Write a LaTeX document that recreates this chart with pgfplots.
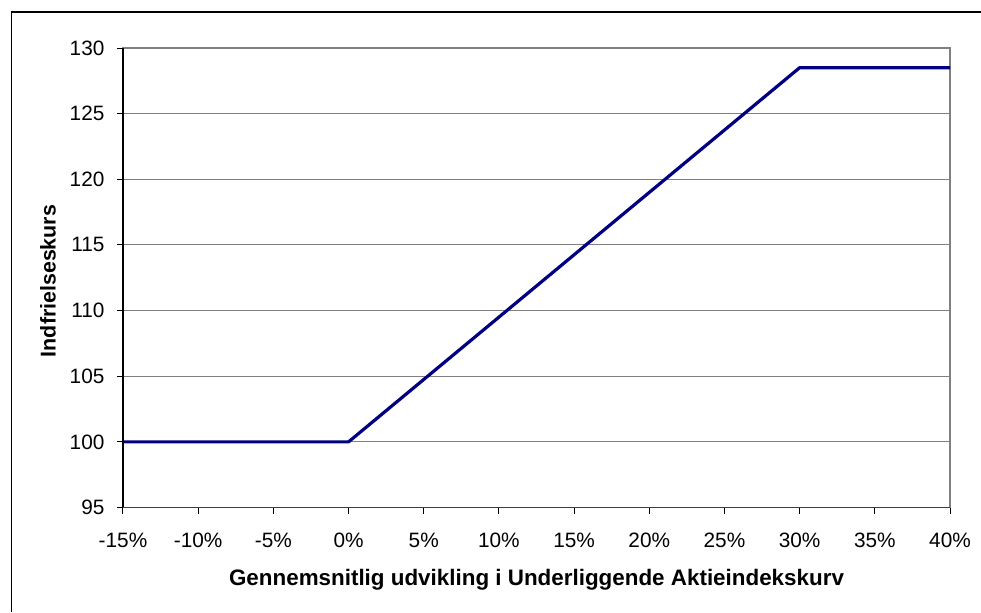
\documentclass[border=0pt]{standalone}
\usepackage{pgfplots}
\pgfplotsset{compat=1.18}
\usepackage{fontspec}
\setmainfont{Liberation Sans}
\definecolor{navyline}{RGB}{0,0,128}
\definecolor{gridgray}{RGB}{128,128,128}
\begin{document}
\begin{tikzpicture}[x=0.5pt,y=0.5pt]
\useasboundingbox (0,0) rectangle (981,612);
\draw[black,line width=0.6pt] (11.5,0) -- (11.5,600) -- (981,600);
\begin{axis}[
  at={(61.5pt,52.25pt)}, anchor=south west,
  width=413.5pt, height=229.75pt, scale only axis,
  xmin=-15, xmax=40, ymin=95, ymax=130,
  xtick={-15,-10,...,40}, ytick={95,100,...,130},
  xticklabels={-15\%,-10\%,-5\%,0\%,5\%,10\%,15\%,20\%,25\%,30\%,35\%,40\%},
  /pgf/number format/assume math mode=true,
  ymajorgrids, grid style={gridgray, line width=0.5pt},
  axis line style={gridgray, line width=0.6pt},
  xtick pos=bottom, ytick pos=left,
  tick align=outside, major tick length=3pt,
  tick style={black, line width=0.5pt},
  tick label style={font=\fontsize{10.4}{12}\selectfont},
  xticklabel style={yshift=-6.25pt},
  yticklabel style={xshift=-2.75pt},
  xlabel={Gennemsnitlig udvikling i Underliggende Aktieindekskurv},
  ylabel={Indfrielseskurs},
  xlabel style={at={(axis description cs:0.5,-0.1708)}, anchor=base, font=\bfseries\fontsize{11.2}{13}\selectfont},
  ylabel style={at={(axis description cs:-0.0907,0.493)}, anchor=center, font=\bfseries\fontsize{10.7}{13}\selectfont},
  clip=false,
]
\addplot[navyline, line width=1.6pt] coordinates {(-15,100) (-10,100) (-5,100) (0,100) (5,104.75) (10,109.5) (15,114.25) (20,119) (25,123.75) (30,128.5) (35,128.5) (40,128.5)};
\draw[black, line width=0.6pt] (rel axis cs:0,1) -- (rel axis cs:0,0);
\draw[black!75, line width=0.9pt] (rel axis cs:0,0) -- (rel axis cs:1,0);
\end{axis}
\end{tikzpicture}
\end{document}
